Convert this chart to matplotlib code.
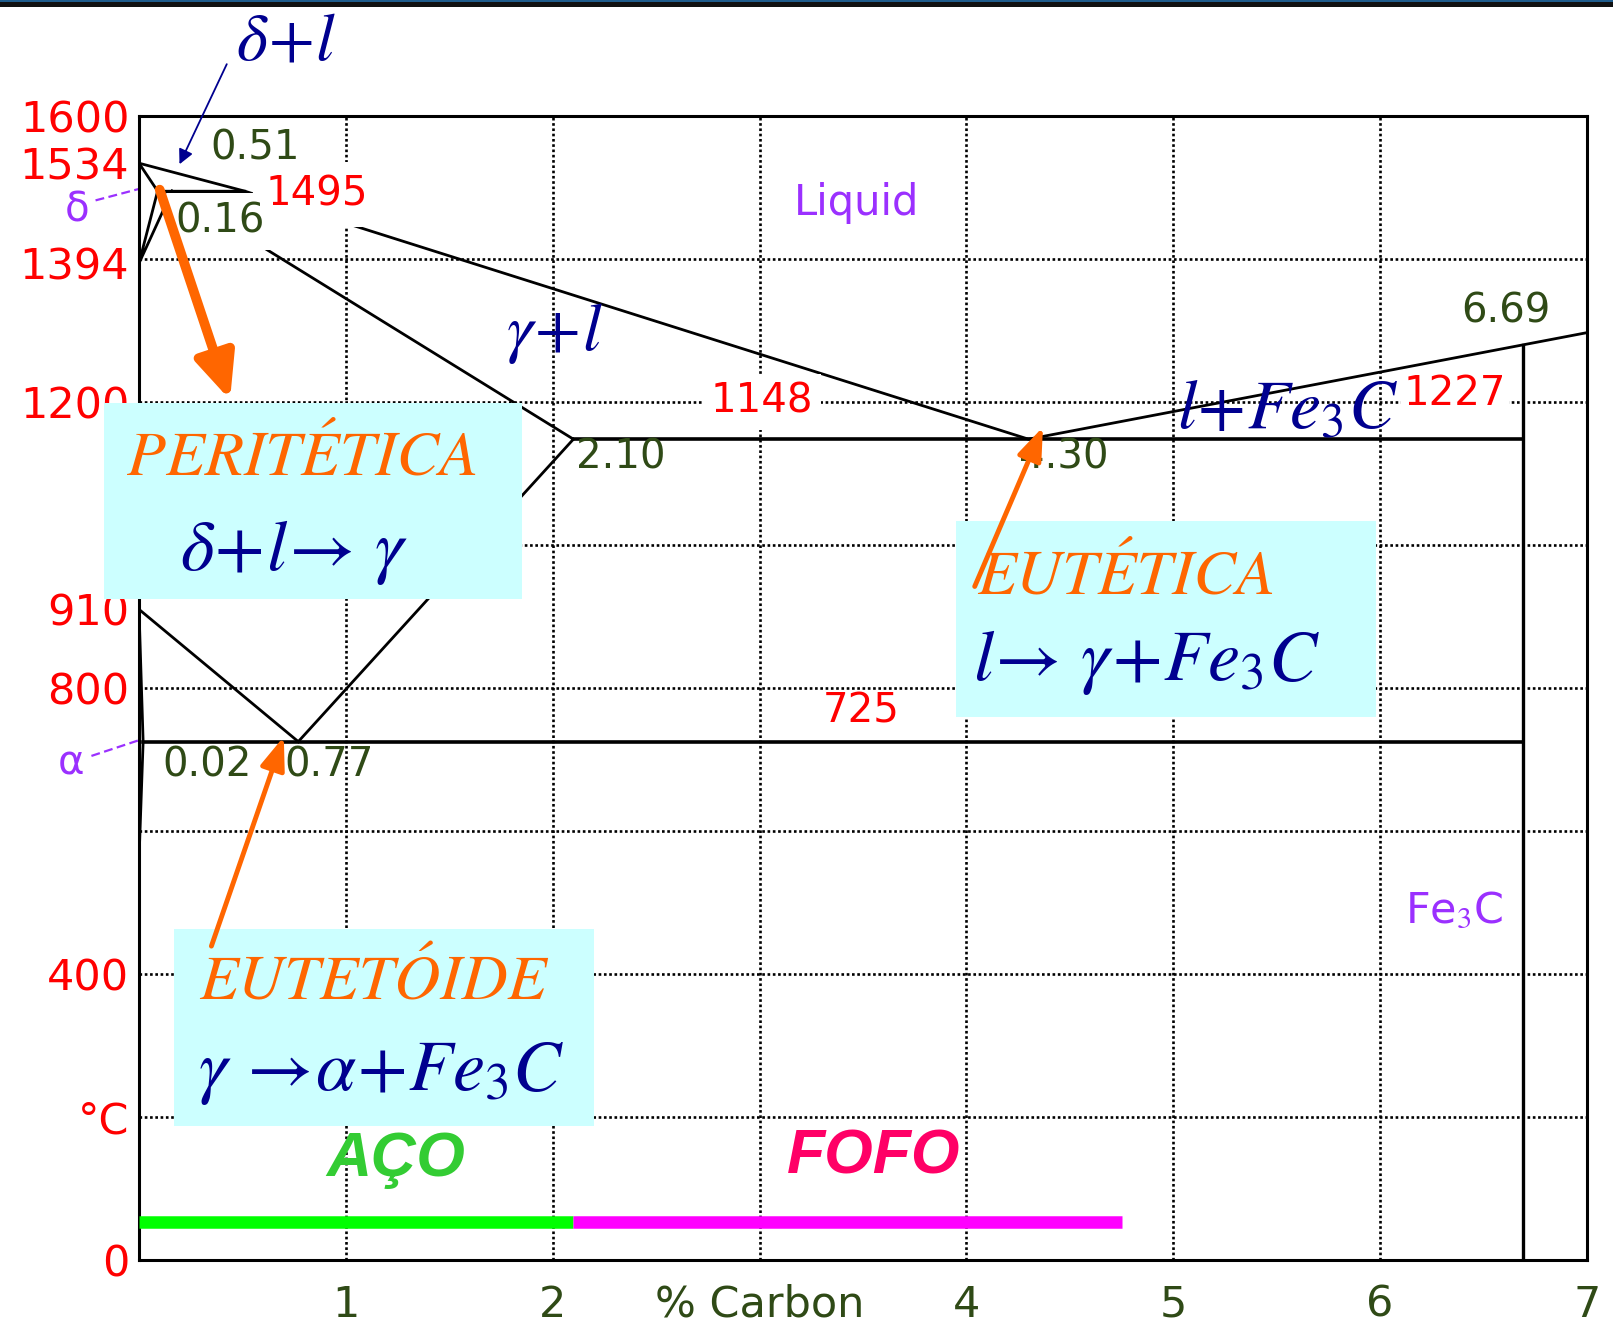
import numpy as np
import matplotlib
matplotlib.use('Agg')
import matplotlib.pyplot as plt
from matplotlib.patches import Rectangle

plt.rcParams['mathtext.fontset'] = 'stix'

# ---- Fe-Fe3C phase boundaries (wt% C, deg C) ----
liquidus_c = [0.0, 0.51, 4.30, 7.0]
liquidus_t = [1534, 1495, 1148, 1297]
delta_sol_c = [0.0, 0.09]
delta_sol_t = [1534, 1495]
peritectic_c = [0.09, 0.51]
peritectic_t = [1495, 1495]
delta_gamma_c = [0.09, 0.0, 0.16]
delta_gamma_t = [1495, 1394, 1495]
gamma_sol_c = [0.16, 2.10]
gamma_sol_t = [1495, 1148]
a3_c = [0.0, 0.77]
a3_t = [910, 725]
acm_c = [0.77, 2.10]
acm_t = [725, 1148]
alpha_c = [0.0, 0.02, 0.0]
alpha_t = [910, 725, 560]
eutectic_c = [2.10, 6.69]
eutectic_t = [1148, 1148]
eutectoid_c = [0.02, 6.69]
eutectoid_t = [725, 725]
cementite_c = 6.69

# axes ticks / grid
temp_ticks = [0, 200, 400, 800, 910, 1200, 1394, 1534, 1600]
temp_labels = ['0', '°C', '400', '800', '910', '1200', '1394', '1534', '1600']
carbon_ticks = [1, 2, 3, 4, 5, 6, 7]
carbon_labels = ['1', '2', '% Carbon', '4', '5', '6', '7']
grid_c = [1, 2, 3, 4, 5, 6]
grid_t = [200, 400, 600, 800, 1000, 1200, 1400]

# steel / cast iron ranges
steel_range = [0.0, 2.10]
cast_iron_range = [2.10, 4.75]
range_t = 53

RED = '#ff0000'
OLIVE = '#2f4a16'
PURPLE = '#9b30ff'
NAVY = '#00008f'
ORANGE = '#ff6600'
BOX = '#ccffff'

fig = plt.figure(figsize=(16.13, 13.26), dpi=100)
ax = fig.add_axes([139 / 1613, 66 / 1326, 1448 / 1613, 1144 / 1326])
ax.set_xlim(0, 7)
ax.set_ylim(0, 1600)

# dark band along the top edge
fig.patches.append(Rectangle((0, 1 - 7 / 1326), 1, 7 / 1326, transform=fig.transFigure,
                             facecolor='#111111', edgecolor='none'))
fig.patches.append(Rectangle((0, 1 - 2 / 1326), 1, 2 / 1326, transform=fig.transFigure,
                             facecolor='#1f5c8c', edgecolor='none'))

for s in ax.spines.values():
    s.set_linewidth(2.2)
ax.set_yticks(temp_ticks)
ax.set_yticklabels(temp_labels, color=RED, fontsize=31)
ax.set_xticks(carbon_ticks)
ax.set_xticklabels(carbon_labels, color=OLIVE, fontsize=31)
ax.tick_params(axis='y', length=0, pad=7)
ax.tick_params(axis='x', length=0, pad=17)

# dotted grid
ax.vlines(grid_c, 0, 1600, colors='black', linestyles=(0, (1, 1)), lw=1.9, zorder=1)
ax.hlines(grid_t, 0, 7, colors='black', linestyles=(0, (1, 1)), lw=1.9, zorder=1)

# phase boundaries
kw = dict(color='black', lw=2.0, zorder=2)
ax.plot(liquidus_c, liquidus_t, **kw)
ax.plot(delta_sol_c, delta_sol_t, **kw)
ax.plot(peritectic_c, peritectic_t, color='black', lw=2.4, zorder=2)
ax.plot(delta_gamma_c, delta_gamma_t, **kw)
ax.plot(gamma_sol_c, gamma_sol_t, **kw)
ax.plot(a3_c, a3_t, **kw)
ax.plot(acm_c, acm_t, **kw)
ax.plot(alpha_c, alpha_t, **kw)
ax.plot(eutectic_c, eutectic_t, color='black', lw=2.6, zorder=2)
ax.plot(eutectoid_c, eutectoid_t, color='black', lw=2.6, zorder=2)
top_fe3c = np.interp(cementite_c, liquidus_c, liquidus_t)
ax.plot([cementite_c, cementite_c], [0, top_fe3c], color='black', lw=2.4, zorder=2)

# steel / cast iron bars
ax.plot(steel_range, [range_t, range_t], color='#00ff00', lw=9, solid_capstyle='butt', zorder=3)
ax.plot(cast_iron_range, [range_t, range_t], color='#ff00ff', lw=9, solid_capstyle='butt', zorder=3)
ax.text(1.24, 140, 'AÇO', color='#33cc33', fontsize=45, fontfamily='Liberation Sans',
        fontweight='bold', style='italic', ha='center', va='center', zorder=3)
ax.text(3.55, 144, 'FOFO', color='#ff0066', fontsize=45, fontfamily='Liberation Sans',
        fontweight='bold', style='italic', ha='center', va='center', zorder=3)

# point labels
wbox = dict(facecolor='white', edgecolor='none', pad=2)
def label(x, t, s, color, size=29, box=wbox):
    ax.text(x, t, s, color=color, fontsize=size, ha='center', va='center',
            bbox=box, zorder=4)

label(0.56, 1555, '0.51', OLIVE)
label(0.86, 1490, '1495', RED, box=dict(facecolor='white', edgecolor='none', pad=9))
label(0.39, 1452, '0.16', OLIVE, box=dict(facecolor='white', edgecolor='none', pad=6))
label(3.01, 1200, '1148', RED, box=dict(facecolor='white', edgecolor='none', pad=6))
label(2.33, 1122, '2.10', OLIVE, box=None)
label(4.47, 1122, '4.30', OLIVE, box=None)
label(6.36, 1211, '1227', RED)
label(6.61, 1326, '6.69', OLIVE, box=None)
label(3.49, 767, '725', RED, box=None)
label(0.33, 692, '0.02', OLIVE, box=None)
label(0.92, 692, '0.77', OLIVE, box=None)
label(3.47, 1478, 'Liquid', PURPLE, size=30, box=None)
label(6.36, 487, r'Fe$_3$C', PURPLE, size=31, box=None)

# phase names
ax.text(2.01, 1297, r'$\gamma\!+\!l$', color=NAVY, fontsize=48, ha='center', va='center', zorder=4)
ax.text(5.55, 1190, r'$l\!+\!Fe_3C$', color=NAVY, fontsize=50, ha='center', va='center', zorder=4)
ax.text(0.71, 1705, r'$\delta\!+\!l$', color=NAVY, fontsize=48, ha='center', va='center',
        clip_on=False, zorder=4)
ax.annotate('', xy=(0.19, 1529), xytext=(0.43, 1676), annotation_clip=False,
            arrowprops=dict(arrowstyle='-|>', color=NAVY, lw=1.3, mutation_scale=22), zorder=4)

# delta / alpha side labels with dashed leaders
ax.text(-0.3, 1468, 'δ', color=PURPLE, fontsize=29, ha='center', va='center', clip_on=False)
ax.plot([-0.21, 0.0], [1482, 1498], color=PURPLE, lw=1.6, ls=(0, (4, 2)), clip_on=False)
ax.text(-0.33, 695, 'α', color=PURPLE, fontsize=29, ha='center', va='center', clip_on=False)
ax.plot([-0.23, 0.0], [705, 727], color=PURPLE, lw=1.6, ls=(0, (4, 2)), clip_on=False)

# invariant reaction boxes
def reaction(x0, x1, t0, t1, title, title_x, title_y, formula, formula_x, formula_y):
    ax.add_patch(Rectangle((x0, t0), x1 - x0, t1 - t0, facecolor=BOX, edgecolor='none',
                           clip_on=False, zorder=5))
    ax.text(title_x, title_y, title, color=ORANGE, fontsize=46, fontfamily='STIXGeneral',
            style='italic', ha='center', va='center', zorder=6)
    ax.text(formula_x, formula_y, formula, color=NAVY, fontsize=52, ha='center', va='center',
            zorder=6)

reaction(-0.17, 1.85, 924, 1199, 'PERITÉTICA', 0.79, 1122,
         r'$\delta\!+\!l\!\rightarrow\,\gamma$', 0.75, 990)
reaction(3.95, 5.98, 760, 1033, 'EUTÉTICA', 4.77, 955,
         r'$l\!\rightarrow\,\gamma\!+\!Fe_3C$', 4.87, 835)
reaction(0.17, 2.20, 187, 463, 'EUTETÓIDE', 1.13, 388,
         r'$\gamma\ \!\rightarrow\!\alpha\!+\!Fe_3C$', 1.17, 262)

# orange pointers to the invariant points
ax.annotate('', xy=(0.44, 1203), xytext=(0.10, 1497),
            arrowprops=dict(arrowstyle='-|>,head_length=0.9,head_width=0.4', color=ORANGE,
                            lw=7, mutation_scale=30, shrinkA=0, shrinkB=0), zorder=7)
ax.annotate('', xy=(0.70, 732), xytext=(0.35, 439),
            arrowprops=dict(arrowstyle='-|>,head_length=0.8,head_width=0.3', color=ORANGE,
                            lw=3.5, mutation_scale=25, shrinkA=0, shrinkB=0), zorder=7)
ax.annotate('', xy=(4.37, 1165), xytext=(4.04, 942),
            arrowprops=dict(arrowstyle='-|>,head_length=0.8,head_width=0.3', color=ORANGE,
                            lw=3.5, mutation_scale=25, shrinkA=0, shrinkB=0), zorder=7)

fig.savefig('out.png', dpi=100)
